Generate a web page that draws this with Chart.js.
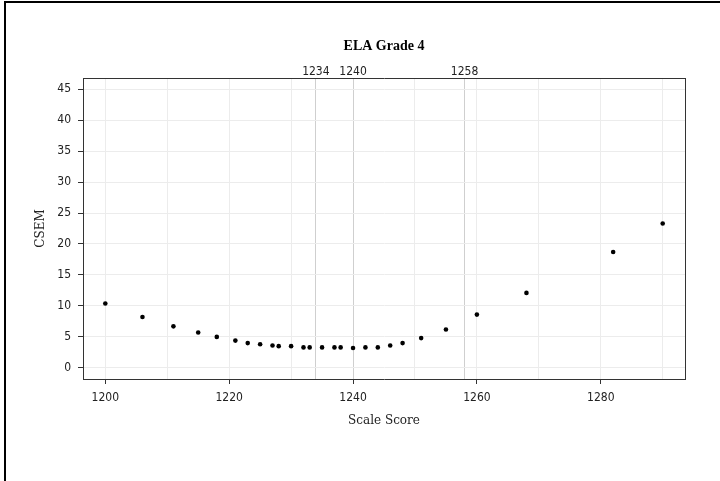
<!doctype html>
<html>
<head>
    <meta charset="UTF-8"/>
    <title>ELA Grade 4</title>
    <style type="text/css">
        body {
            margin: 0;
            padding: 0;
            background-color: #fff;
            overflow: hidden;
        }
        .frame {
            position: absolute;
            left: 4px;
            top: 1px;
            width: 800px;
            height: 600px;
            border-top: 2px solid #000;
            border-left: 2px solid #000;
            pointer-events: none;
        }
    </style>
</head>
<body>
    <canvas id="myChart" width="720" height="481"></canvas>
    <div class="frame"></div>

    <script src="https://cdn.jsdelivr.net/npm/chart.js"></script>

    <script>
        // Data arrays
        const scaleScores = [1200, 1206, 1211, 1215, 1218, 1221, 1223, 1225, 1227, 1228, 1230, 1232, 1233, 1235,
                             1237, 1238, 1240, 1242, 1244, 1246, 1248, 1251, 1255, 1260, 1268, 1282, 1290];
        const csemValues = [10.4, 8.2, 6.7, 5.7, 5.0, 4.4, 4.0, 3.8, 3.6, 3.5, 3.5, 3.3, 3.3, 3.3,
                            3.3, 3.3, 3.2, 3.3, 3.3, 3.6, 4.0, 4.8, 6.2, 8.6, 12.1, 18.7, 23.3];
        const cutScores = [1234, 1240, 1258];
        const xGridValues = [1200, 1210, 1220, 1230, 1240, 1250, 1260, 1270, 1280, 1290];
        const xTickLabels = [1200, 1220, 1240, 1260, 1280];
        const yTickValues = [0, 5, 10, 15, 20, 25, 30, 35, 40, 45];

        // 'condensed' goes in the weight slot so the canvas font string picks the narrow face
        const tickFont = { family: "'DejaVu Sans', 'Liberation Sans', sans-serif", size: 12, weight: 'condensed' };
        const labelFont = { family: "'DejaVu Serif', serif", size: 12 };
        const axisColor = '#333';
        const gridColor = '#ececec';

        const points = scaleScores.map((s, i) => ({ x: s, y: csemValues[i] }));

        const config = {
            type: 'scatter',
            data: {
                datasets: [{
                    label: 'CSEM',
                    data: points,
                    backgroundColor: '#000',
                    borderWidth: 0,
                    pointRadius: 2.3,
                    pointHoverRadius: 2.3
                }]
            },
            options: {
                responsive: false,
                animation: false,
                layout: { padding: 0 },
                plugins: {
                    legend: { display: false },
                    tooltip: { enabled: false },
                    title: { display: false }
                },
                scales: {
                    x: {
                        type: 'linear',
                        position: 'bottom',
                        min: 1196.4,
                        max: 1293.6,
                        afterBuildTicks: scale => {
                            scale.ticks = xGridValues.map(v => ({ value: v }));
                        },
                        afterFit: scale => { scale.height = 102; },
                        ticks: {
                            autoSkip: false,
                            maxRotation: 0,
                            padding: 7,
                            color: '#222',
                            font: tickFont,
                            callback: v => xTickLabels.includes(v) ? String(v) : ''
                        },
                        grid: {
                            color: gridColor,
                            tickLength: 5,
                            tickColor: ctx => (ctx.tick && xTickLabels.includes(ctx.tick.value)) ? axisColor : 'rgba(0,0,0,0)'
                        },
                        border: { color: axisColor, width: 1 },
                        title: {
                            display: true,
                            text: 'Scale Score',
                            color: '#222',
                            font: labelFont,
                            padding: { top: 0, bottom: 53 }
                        }
                    },
                    x2: {
                        type: 'linear',
                        position: 'top',
                        min: 1196.4,
                        max: 1293.6,
                        afterBuildTicks: scale => {
                            scale.ticks = cutScores.map(v => ({ value: v }));
                        },
                        afterFit: scale => { scale.height = 78; },
                        ticks: {
                            autoSkip: false,
                            maxRotation: 0,
                            padding: -1,
                            color: '#222',
                            font: tickFont,
                            callback: v => String(v)
                        },
                        grid: {
                            color: '#cfcfcf',
                            drawTicks: false
                        },
                        border: { color: axisColor, width: 1 },
                        title: {
                            display: true,
                            text: 'ELA Grade 4',
                            color: '#000',
                            font: { family: "'Liberation Serif', 'Times New Roman', serif", size: 14, weight: 'bold' },
                            padding: { top: 38, bottom: 0 }
                        }
                    },
                    y: {
                        type: 'linear',
                        position: 'left',
                        min: -1.8,
                        max: 46.8,
                        afterBuildTicks: scale => {
                            scale.ticks = yTickValues.map(v => ({ value: v }));
                        },
                        afterFit: scale => { scale.width = 83; },
                        ticks: {
                            padding: 7,
                            color: '#222',
                            font: tickFont
                        },
                        grid: {
                            color: gridColor,
                            tickLength: 5,
                            tickColor: axisColor
                        },
                        border: { color: axisColor, width: 1 },
                        title: {
                            display: true,
                            text: 'CSEM',
                            color: '#222',
                            font: labelFont,
                            padding: { top: 34, bottom: 0 }
                        }
                    },
                    y2: {
                        type: 'linear',
                        position: 'right',
                        min: -1.8,
                        max: 46.8,
                        afterFit: scale => { scale.width = 35; },
                        ticks: { display: false },
                        grid: { drawOnChartArea: false, drawTicks: false },
                        border: { color: axisColor, width: 1 }
                    }
                }
            }
        };

        const myChart = new Chart(
            document.getElementById('myChart'),
            config
        );
    </script>
</body>
</html>
